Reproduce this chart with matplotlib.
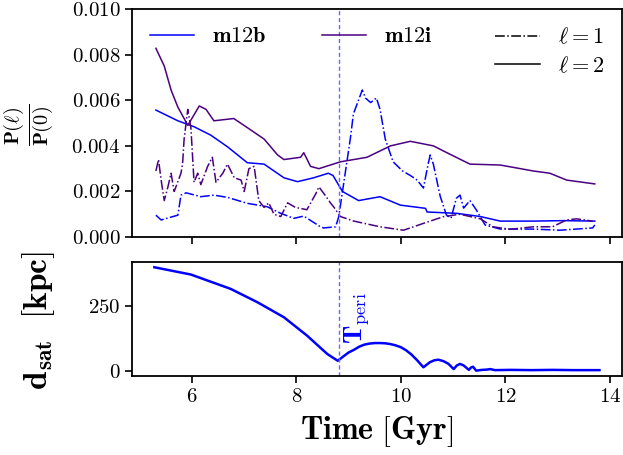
import matplotlib
matplotlib.use('Agg')
import matplotlib.pyplot as plt
from matplotlib.lines import Line2D

plt.rcParams['font.family'] = 'serif'
plt.rcParams['font.serif'] = ['cmr10']
plt.rcParams['mathtext.fontset'] = 'cm'
plt.rcParams['axes.formatter.use_mathtext'] = True

# tempos de pericentro
t_peri = 8.81

# m12b, l=2 (linha cheia azul)
t_b2 = [5.31, 5.73, 6.04, 6.36, 6.68, 7.06, 7.38, 7.76, 8.02, 8.33, 8.61, 8.70,
        8.88, 9.19, 9.60, 9.99, 10.47, 10.50, 11.07, 11.52, 11.90, 12.53, 13.10, 13.71]
p_b2 = [0.00557, 0.0051, 0.00484, 0.00447, 0.00396, 0.00326, 0.0032, 0.0026, 0.00243,
        0.0026, 0.0028, 0.0027, 0.0020, 0.0016, 0.00177, 0.0014, 0.00126, 0.0011,
        0.00104, 0.0009, 0.0007, 0.0007, 0.00072, 0.0007]

# m12b, l=1 (traco-ponto azul)
t_b1 = [5.31, 5.41, 5.73, 5.79, 5.89, 6.17, 6.42, 6.68, 7.06, 7.44, 7.70, 7.95, 8.14,
        8.46, 8.52, 8.75, 8.81, 9.03, 9.09, 9.26, 9.32, 9.42, 9.53, 9.60, 9.70, 9.85,
        10.03, 10.18, 10.31, 10.43, 10.52, 10.56, 10.62, 10.75, 10.87, 10.96, 11.06,
        11.13, 11.20, 11.32, 11.44, 11.61, 11.90, 12.53, 13.04, 13.67, 13.71]
p_b1 = [0.00096, 0.00075, 0.00096, 0.00184, 0.00194, 0.00177, 0.00184, 0.00174,
        0.00148, 0.00133, 0.00104, 0.00082, 0.00092, 0.00045, 0.0004, 0.00045, 0.0009,
        0.0043, 0.0054, 0.00645, 0.0061, 0.0059, 0.0061, 0.0056, 0.0043, 0.0033,
        0.0029, 0.0027, 0.0025, 0.00215, 0.0032, 0.0036, 0.0032, 0.0018, 0.00097,
        0.00083, 0.0017, 0.00184, 0.00127, 0.0016, 0.0012, 0.00053, 0.00035, 0.00035,
        0.0003, 0.0004, 0.00053]

# m12i, l=2 (linha cheia roxa)
t_i2 = [5.31, 5.47, 5.60, 5.73, 5.85, 5.92, 6.14, 6.27, 6.42, 6.80, 7.06, 7.38, 7.64,
        7.76, 8.08, 8.14, 8.27, 8.43, 8.84, 9.35, 9.80, 10.18, 10.62, 10.88, 11.32,
        11.90, 12.53, 12.85, 13.17, 13.71]
p_i2 = [0.00828, 0.0075, 0.00645, 0.0057, 0.0052, 0.0049, 0.00575, 0.0056, 0.0051,
        0.0052, 0.0048, 0.0043, 0.0036, 0.0034, 0.0035, 0.0037, 0.0031, 0.0030, 0.0033,
        0.0035, 0.0040, 0.0042, 0.0040, 0.0037, 0.0032, 0.00316, 0.0029, 0.0028,
        0.0025, 0.00233]

# m12i, l=1 (traco-ponto roxo)
t_i1 = [5.31, 5.36, 5.41, 5.47, 5.54, 5.60, 5.66, 5.79, 5.82, 5.85, 5.92, 5.98, 6.04,
        6.11, 6.17, 6.30, 6.39, 6.46, 6.59, 6.68, 6.81, 6.94, 7.00, 7.09, 7.19, 7.28,
        7.38, 7.47, 7.57, 7.70, 7.83, 7.98, 8.20, 8.37, 8.43, 8.56, 8.65, 8.72, 8.84,
        9.10, 9.60, 10.05, 10.43, 10.82, 11.13, 11.52, 11.76, 12.09, 12.53, 12.90,
        13.17, 13.36, 13.67]
p_i1 = [0.0029, 0.0034, 0.0025, 0.0016, 0.0022, 0.0028, 0.0020, 0.0028, 0.0032,
        0.0043, 0.0056, 0.0048, 0.0024, 0.0028, 0.0023, 0.0031, 0.0035, 0.0024, 0.0028,
        0.0032, 0.0026, 0.0025, 0.0020, 0.0030, 0.0031, 0.0016, 0.0013, 0.0015, 0.0010,
        0.0009, 0.0015, 0.0013, 0.0012, 0.0019, 0.0022, 0.0018, 0.0015, 0.0013, 0.0009,
        0.0007, 0.00045, 0.0003, 0.0006, 0.0009, 0.0010, 0.0008, 0.00045, 0.00034,
        0.00045, 0.00045, 0.00075, 0.0008, 0.0007]

# distancia do satelite
t_sat = [5.28, 5.98, 6.74, 7.25, 7.76, 8.20, 8.59, 8.79, 8.90, 9.00, 9.10, 9.20, 9.30,
         9.40, 9.50, 9.60, 9.70, 9.80, 9.90, 10.00, 10.10, 10.20, 10.30, 10.43, 10.55,
         10.64, 10.72, 10.82, 10.91, 11.01, 11.07, 11.13, 11.20, 11.30, 11.34, 11.38,
         11.44, 11.55, 11.64, 11.71, 11.80, 12.10, 12.50, 12.90, 13.30, 13.80]
d_sat = [397, 369, 314, 263, 205, 135, 64, 38, 55, 70, 80, 92, 100, 104, 106, 106,
         105, 102, 97, 90, 78, 62, 42, 13, 32, 40, 42, 36, 26, 6, 20, 26, 20, 3, 12, 15,
         0, 3, 4, 6, 2, 3, 2, 3, 2, 2]

cor_b = 'blue'
cor_i = 'indigo'
cor_v = '#6a6aff'

fig = plt.figure(figsize=(6.23, 4.55), dpi=100)
ax1 = fig.add_axes([0.212, 0.479, 0.786, 0.501])
ax2 = fig.add_axes([0.212, 0.174, 0.786, 0.250], sharex=ax1)

ax1.plot(t_b2, p_b2, color=cor_b, lw=1.1)
ax1.plot(t_b1, p_b1, color=cor_b, lw=1.1, ls='-.')
ax1.plot(t_i2, p_i2, color=cor_i, lw=1.1)
ax1.plot(t_i1, p_i1, color=cor_i, lw=1.1, ls='-.')
ax1.axvline(t_peri, color=cor_v, ls=(0, (3, 2)), lw=1.0)
ax1.set_ylim(0, 0.010)
ax1.tick_params(labelbottom=False, labelsize=15, width=1.2, length=5)
ax1.set_ylabel(r'$\mathbf{\frac{P(\ell)}{P(0)}}$', fontsize=21)
ax1.yaxis.set_label_coords(-0.153, 0.49)

leg1 = ax1.legend([Line2D([], [], color=cor_b, lw=1.1), Line2D([], [], color=cor_i, lw=1.1)],
                  [r'$\mathbf{m12b}$', r'$\mathbf{m12i}$'], ncol=2, loc='upper left',
                  frameon=False, fontsize=16, columnspacing=2.5, handlelength=2.0,
                  borderaxespad=0.4)
ax1.add_artist(leg1)
ax1.legend([Line2D([], [], color='k', lw=1.1, ls='-.'), Line2D([], [], color='k', lw=1.1)],
           [r'$\ell=1$', r'$\ell=2$'], loc='upper right', frameon=False, fontsize=16,
           handlelength=2.0, borderaxespad=0.4, labelspacing=0.35)

ax2.plot(t_sat, d_sat, color=cor_b, lw=1.8)
ax2.axvline(t_peri, color=cor_v, ls=(0, (3, 2)), lw=1.0)
ax2.text(t_peri + 0.06, 103, r'$\mathbf{T}_{\rm peri}$', color=cor_b, rotation=90,
         ha='left', va='bottom', fontsize=19)
ax2.set_yticks([0, 250])
ax2.tick_params(labelsize=15, width=1.2, length=5)
ax2.set_xticks([6, 8, 10, 12, 14])
ax2.set_ylabel(r'$\mathbf{d_{sat}\ \ [kpc]}$', fontsize=24)
ax2.yaxis.set_label_coords(-0.153, 0.49)
ax2.set_xlabel(r'$\mathbf{Time\ [Gyr]}$', fontsize=23, labelpad=6)

for ax in (ax1, ax2):
    for s in ax.spines.values():
        s.set_linewidth(1.3)

fig.savefig('out.png', dpi=100)
